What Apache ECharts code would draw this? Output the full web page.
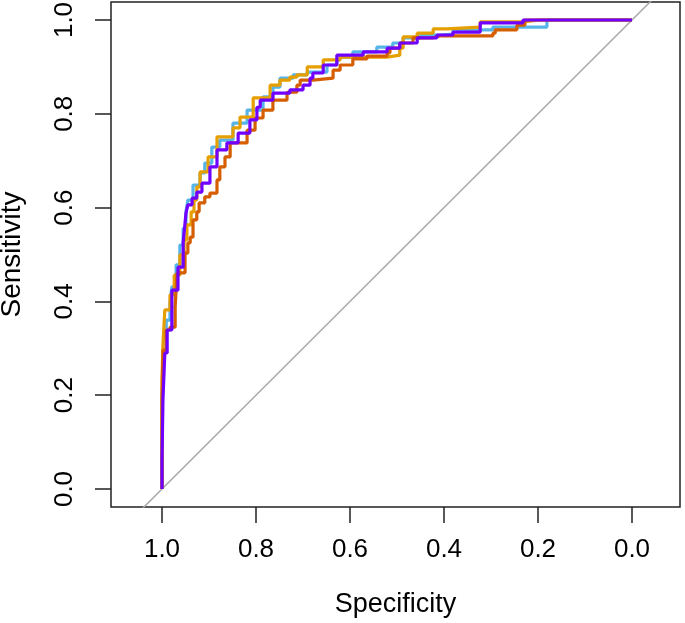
<!DOCTYPE html>
<html><head><meta charset="utf-8">
<script src="https://cdn.jsdelivr.net/npm/echarts@6/dist/echarts.min.js"></script>
<style>html,body{margin:0;padding:0;background:#fff}#c{width:685px;height:623px}</style>
</head><body><div id="c"></div>
<script>
const tickValues = [0, 0.2, 0.4, 0.6, 0.8, 1];
const tickLabels = ['0.0', '0.2', '0.4', '0.6', '0.8', '1.0'];
const diagSpec = [1.2, -0.2];
const diagSens = [-0.2, 1.2];

const blueSpec = [1.0,1.0,0.996,0.991,0.983,0.979,0.970,0.962,0.955,0.949,0.945,0.934,0.919,0.909,0.894,0.877,0.849,0.819,0.785,0.764,0.749,0.721,0.691,0.649,0.628,0.621,0.594,0.543,0.509,0.487,0.451,0.409,0.381,0.296,0.245,0.181,0.174,0.0];
const blueSens = [0,0.105,0.190,0.296,0.360,0.397,0.431,0.478,0.520,0.556,0.591,0.616,0.648,0.674,0.695,0.729,0.744,0.780,0.808,0.836,0.857,0.876,0.883,0.889,0.904,0.915,0.921,0.932,0.942,0.951,0.962,0.968,0.970,0.979,0.985,0.985,1.0,1.0];

const orangeSpec = [1.0,1.0,0.998,0.994,0.983,0.974,0.962,0.953,0.947,0.938,0.932,0.926,0.919,0.902,0.883,0.849,0.834,0.806,0.770,0.749,0.728,0.713,0.691,0.657,0.621,0.594,0.521,0.494,0.487,0.457,0.423,0.394,0.323,0.232,0.196,0.0];
const orangeSens = [0,0.126,0.232,0.307,0.382,0.414,0.456,0.499,0.531,0.563,0.591,0.616,0.644,0.676,0.708,0.751,0.770,0.793,0.834,0.861,0.872,0.878,0.883,0.900,0.915,0.921,0.921,0.925,0.940,0.964,0.972,0.981,0.985,0.996,1.0,1.0];

const vermSpec = [1.0,1.0,0.998,0.991,0.983,0.972,0.968,0.951,0.945,0.940,0.934,0.926,0.921,0.909,0.898,0.883,0.877,0.866,0.855,0.819,0.802,0.785,0.764,0.734,0.713,0.706,0.679,0.636,0.621,0.594,0.564,0.521,0.515,0.494,0.466,0.423,0.409,0.296,0.291,0.245,0.228,0.174,0.0];
const vermSens = [0,0.126,0.190,0.296,0.339,0.345,0.388,0.461,0.503,0.525,0.537,0.574,0.591,0.610,0.623,0.631,0.659,0.687,0.708,0.738,0.765,0.791,0.808,0.829,0.846,0.861,0.872,0.876,0.893,0.904,0.917,0.923,0.930,0.940,0.951,0.962,0.966,0.966,0.972,0.979,0.989,1.0,1.0];

const purpleSpec = [1.0,0.998,0.994,0.989,0.979,0.966,0.955,0.951,0.949,0.945,0.936,0.926,0.915,0.904,0.898,0.883,0.862,0.838,0.813,0.798,0.791,0.764,0.728,0.700,0.685,0.679,0.657,0.628,0.572,0.521,0.494,0.457,0.415,0.381,0.323,0.232,0.132,0.0];
const purpleSens = [0,0.062,0.190,0.290,0.339,0.424,0.473,0.525,0.567,0.588,0.606,0.620,0.633,0.652,0.652,0.687,0.723,0.738,0.759,0.787,0.814,0.829,0.844,0.851,0.861,0.876,0.887,0.904,0.925,0.932,0.940,0.951,0.962,0.968,0.974,0.994,1.0,1.0];

function pairs(a, b) { return a.map((v, i) => [v, b[i]]); }
function roc(name, spec, sens, color) {
  return { name, type: 'line', data: pairs(spec, sens), step: 'start', showSymbol: false, symbol: 'none',
    lineStyle: { color, width: 3.2 }, clip: true, z: 3 };
}
function lab(v) { const i = tickValues.findIndex(t => Math.abs(t - v) < 1e-9); return i < 0 ? '' : tickLabels[i]; }
const font = 'Liberation Sans, Arial, sans-serif';
const chart = echarts.init(document.getElementById('c'), null, { renderer: 'canvas' });
chart.setOption({
  animation: false,
  backgroundColor: '#fff',
  grid: { left: 111, right: 5, top: 2, bottom: 116, containLabel: false, outerBoundsMode: 'none',
    show: true, borderColor: '#222', borderWidth: 1.5, backgroundColor: 'transparent' },
  xAxis: {
    type: 'value', inverse: true, min: -0.10213, max: 1.10851,
    name: 'Specificity', nameLocation: 'middle', nameGap: 84,
    nameTextStyle: { fontFamily: font, fontSize: 27, color: '#000' },
    axisLine: { show: false, onZero: false }, splitLine: { show: false },
    axisTick: { show: true, customValues: tickValues, length: 16, lineStyle: { color: '#222', width: 1.5 } },
    axisLabel: { customValues: tickValues, formatter: lab, fontFamily: font, fontSize: 26, color: '#000', margin: 30 }
  },
  yAxis: {
    type: 'value', min: -0.03838, max: 1.03838,
    name: 'Sensitivity', nameLocation: 'middle', nameGap: 85,
    nameTextStyle: { fontFamily: font, fontSize: 28, color: '#000' },
    axisLine: { show: false, onZero: false }, splitLine: { show: false },
    axisTick: { show: true, customValues: tickValues, length: 16, lineStyle: { color: '#222', width: 1.5 } },
    axisLabel: { customValues: tickValues, rotate: 90, formatter: lab, fontFamily: font, fontSize: 26, color: '#000', margin: 33 }
  },
  series: [
    { name: 'diag', type: 'line', data: pairs(diagSpec, diagSens), showSymbol: false, symbol: 'none', lineStyle: { color: '#aaaaaa', width: 1.5 }, clip: true, z: 2 },
    roc('blue', blueSpec, blueSens, '#56B4E9'),
    roc('orange', orangeSpec, orangeSens, '#E69F00'),
    roc('vermilion', vermSpec, vermSens, '#D55E00'),
    roc('purple', purpleSpec, purpleSens, '#7000FF')
  ]
});
</script></body></html>
